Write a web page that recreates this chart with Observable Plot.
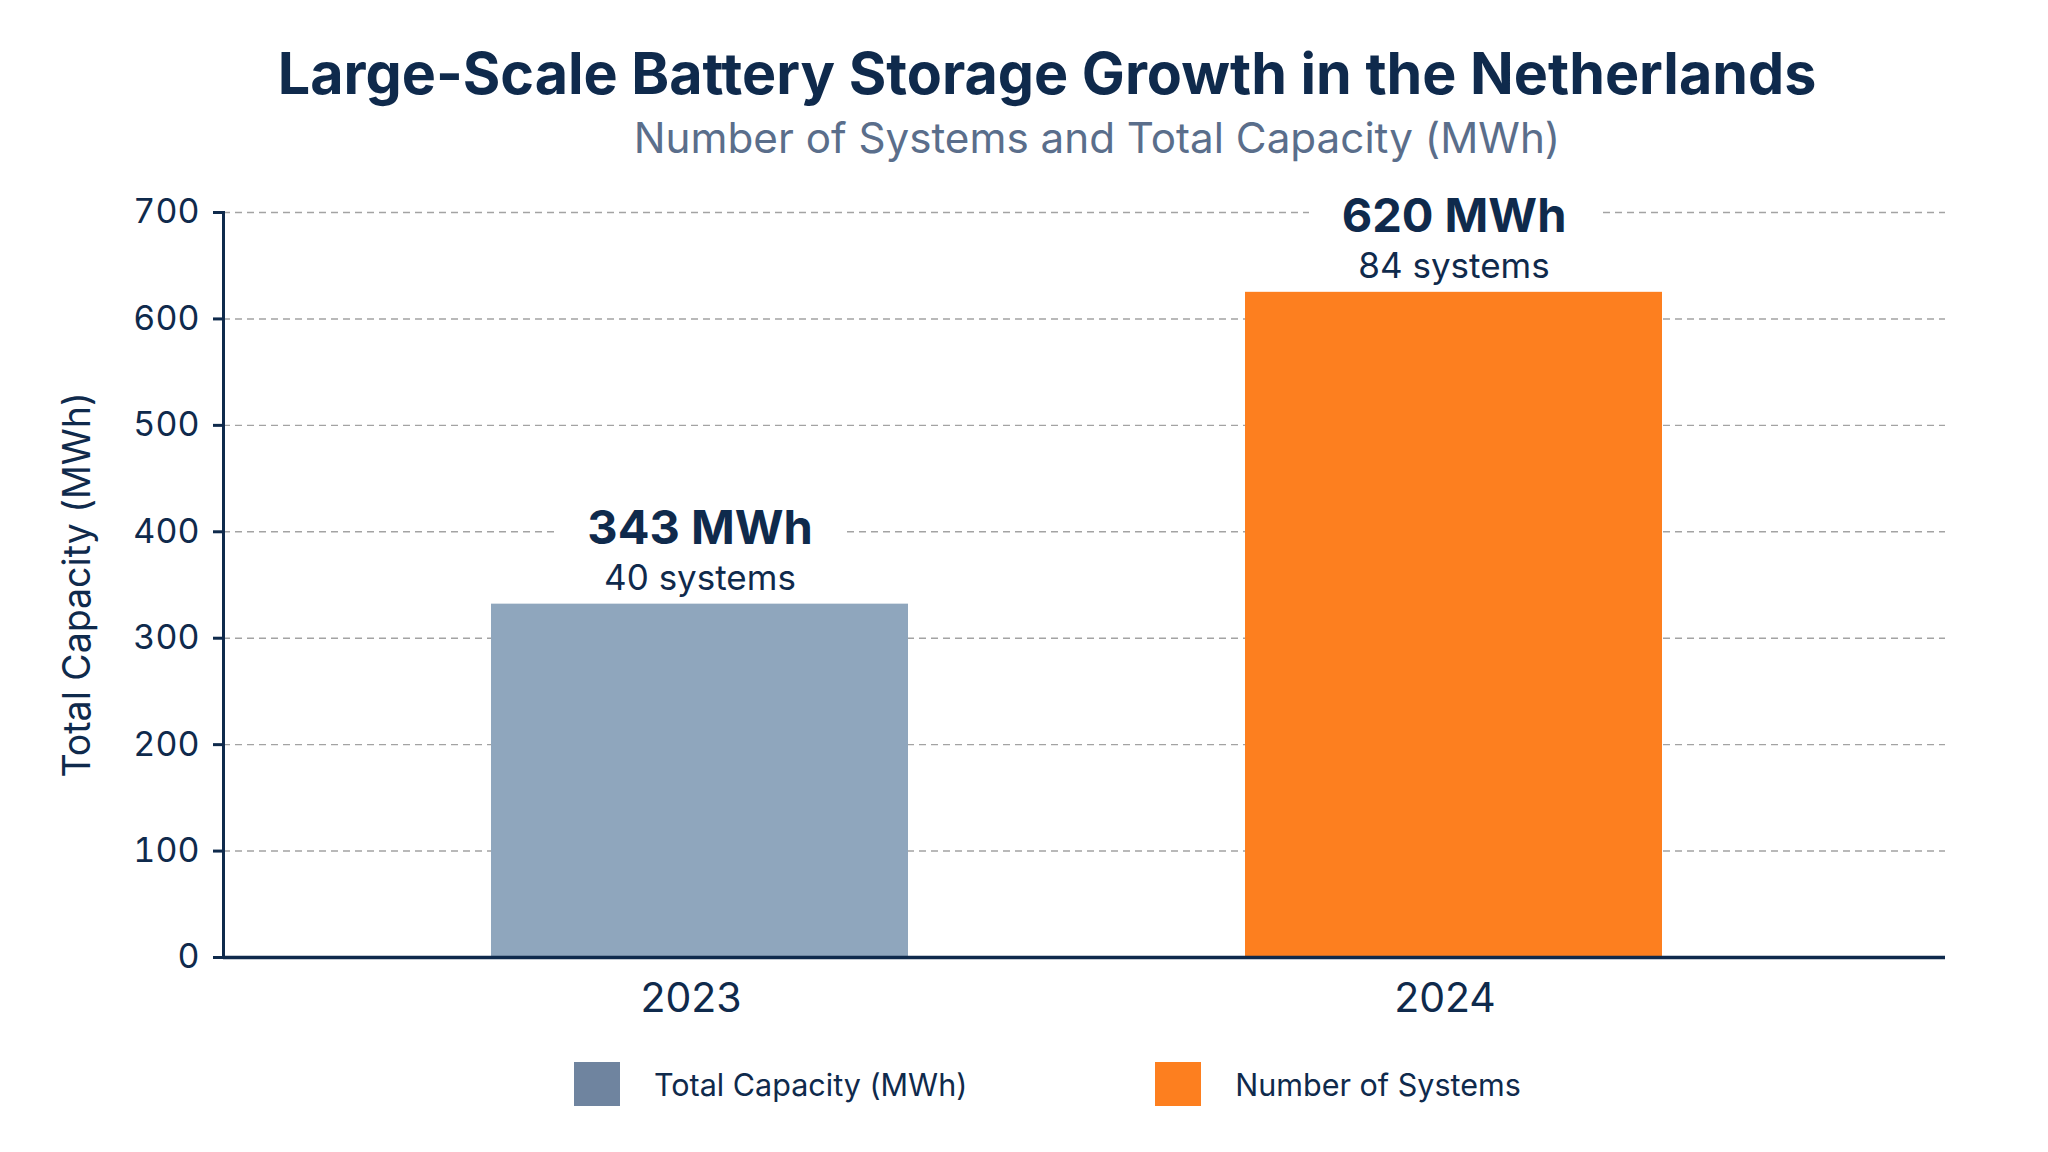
<!DOCTYPE html>
<html>
<head>
<meta charset="utf-8">
<script src="https://cdn.jsdelivr.net/npm/d3@7"></script>
<script src="https://cdn.jsdelivr.net/npm/@observablehq/plot@0.6"></script>
<style>
  html, body { margin: 0; padding: 0; background: #ffffff; }
  body { width: 2048px; height: 1152px; position: relative; overflow: hidden; font-family: Inter, "Noto Sans", sans-serif; }
  #title { position: absolute; left: 0; width: 2048px; top: 45px; text-align: center; padding-left: 46px; box-sizing: border-box;
           font-size: 57.4px; font-weight: 700; color: #0f2a4c; line-height: 1; white-space: nowrap; }
  #subtitle { position: absolute; left: 0; width: 2048px; top: 117px; text-align: center; padding-left: 146px; box-sizing: border-box;
           font-size: 42.2px; font-weight: 400; color: #5a6e8b; line-height: 1; white-space: nowrap; }
  #chart { position: absolute; left: 0; top: 170px; }
  #legend { position: absolute; left: 574px; top: 1062px; display: flex; align-items: center; height: 44px; }
  .item { display: flex; align-items: center; }
  .sw { width: 46px; height: 44px; margin-right: 34px; }
  .lab { font-size: 30.5px; color: #0f2a4c; white-space: nowrap; }
</style>
</head>
<body>
<div id="title">Large-Scale Battery Storage Growth in the Netherlands</div>
<div id="subtitle">Number of Systems and Total Capacity (MWh)</div>
<div id="chart"></div>
<div id="legend"></div>
<script>
// ---- data ----
const years = ["2023", "2024"];
const capacityDrawn = [332, 625];        // bar heights as drawn (MWh)
const capacityStated = [343, 620];       // labelled capacity (MWh)
const systems = [40, 84];                // number of systems
const barColors = ["#8fa6bd", "#fd7f1f"];
const yTicks = [0, 100, 200, 300, 400, 500, 600, 700];
const yLabel = "Total Capacity (MWh)";
const legendLabels = ["Total Capacity (MWh)", "Number of Systems"];
const legendColors = ["#6f849f", "#fd7f1f"];

const navy = "#0f2a4c";
const data = years.map((y, i) => ({
  year: y,
  capacity: capacityDrawn[i],
  mwh: `${capacityStated[i]} MWh`,
  sys: `${systems[i]} systems`
}));

const chart = Plot.plot({
  width: 2048,
  height: 860,
  marginTop: 42,
  marginBottom: 73,
  marginLeft: 223,
  marginRight: 103,
  style: { fontFamily: "Inter, 'Noto Sans', sans-serif", color: navy, background: "white", overflow: "visible" },
  x: { domain: years, paddingInner: 0.4464, paddingOuter: 0.3636, align: 0.486, label: null },
  y: { domain: [0, 700], label: null },
  color: { domain: years, range: barColors },
  marks: [
    Plot.gridY(yTicks, { stroke: "#a3a3a3", strokeOpacity: 1, strokeWidth: 1.4, strokeDasharray: "7,5" }),
    // white backdrop behind the value labels (hides the grid line there)
    Plot.barY(data, { x: "year", y1: "capacity", y2: "capacity", fill: "white",
                      insetTop: -100, insetBottom: 25, insetLeft: 64, insetRight: 64 }),
    Plot.barY(data, { x: "year", y: "capacity", fill: "year" }),
    Plot.axisY({ ticks: yTicks, tickSize: 10, tickPadding: 14, fontSize: 34, stroke: navy, strokeWidth: 3, label: null }),
    Plot.frame({ anchor: "left", stroke: navy, strokeWidth: 3 }),
    Plot.ruleY([0], { stroke: navy, strokeWidth: 3.5 }),
    Plot.axisX({ tickSize: 0, tickPadding: 25, fontSize: 41, dx: -9, label: null }),
    Plot.text([yLabel], { text: d => d, frameAnchor: "left", textAnchor: "middle", rotate: -90, dx: -146, fontSize: 37.5, fill: navy }),
    Plot.text(data, { x: "year", y: "capacity", text: "mwh", lineAnchor: "bottom", dy: -60, fontSize: 47, fontWeight: 700, fill: navy }),
    Plot.text(data, { x: "year", y: "capacity", text: "sys", lineAnchor: "bottom", dy: -14.5, fontSize: 35, fill: navy })
  ]
});
document.getElementById("chart").appendChild(chart);

const legend = document.getElementById("legend");
legendLabels.forEach((l, i) => {
  const it = document.createElement("div");
  it.className = "item";
  if (i > 0) it.style.marginLeft = "188px";
  const sw = document.createElement("div");
  sw.className = "sw";
  sw.style.background = legendColors[i];
  const t = document.createElement("span");
  t.className = "lab";
  t.textContent = l;
  it.appendChild(sw); it.appendChild(t);
  legend.appendChild(it);
});
</script>
</body>
</html>
